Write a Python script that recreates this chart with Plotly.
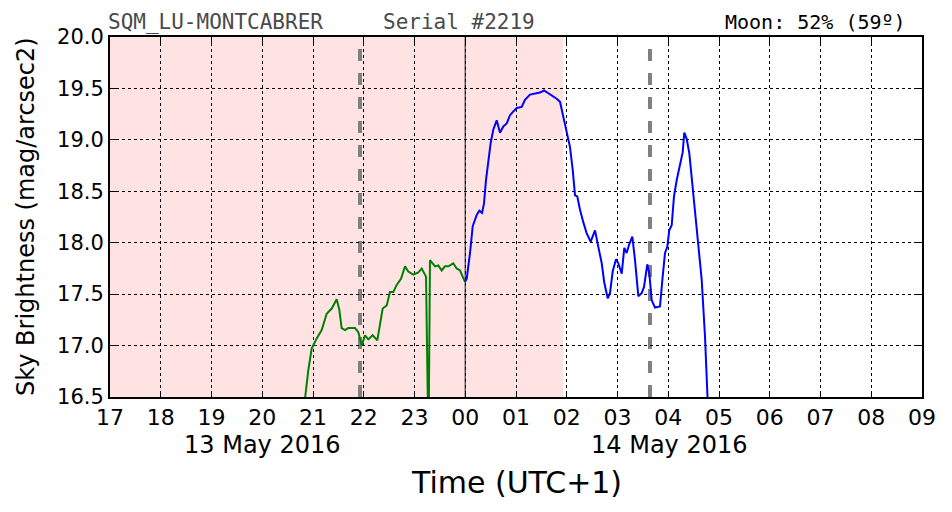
import plotly.graph_objects as go

# Time in decimal hours (UTC+1); values >= 24 are after midnight of 14 May 2016
green_t = [20.80, 20.907, 20.974, 21.073, 21.171, 21.270, 21.369, 21.467, 21.518, 21.565,
           21.631, 21.696, 21.828, 21.893, 21.960, 22.025, 22.090, 22.176, 22.267, 22.373,
           22.452, 22.517, 22.582, 22.649, 22.734, 22.813, 22.878, 22.976, 23.075, 23.142,
           23.227, 23.256, 23.276, 23.305, 23.404, 23.469, 23.536, 23.601, 23.666, 23.764,
           23.831, 23.897, 23.995]
green_v = [16.30, 16.76, 16.97, 17.07, 17.15, 17.31, 17.36, 17.45, 17.35, 17.17,
           17.15, 17.17, 17.17, 17.13, 17.00, 17.10, 17.06, 17.10, 17.05, 17.36,
           17.39, 17.52, 17.52, 17.59, 17.65, 17.77, 17.72, 17.69, 17.71, 17.75,
           17.67, 16.00, 16.00, 17.83, 17.77, 17.78, 17.73, 17.77, 17.77, 17.80,
           17.75, 17.73, 17.62]

blue_t = [23.995, 24.029, 24.094, 24.147, 24.226, 24.277, 24.330, 24.369, 24.409, 24.454,
          24.501, 24.553, 24.620, 24.685, 24.750, 24.817, 24.882, 24.935, 25.014, 25.112,
          25.177, 25.276, 25.408, 25.473, 25.552, 25.617, 25.704, 25.802, 25.867, 25.932,
          25.999, 26.064, 26.117, 26.163, 26.208, 26.261, 26.326, 26.393, 26.472, 26.557,
          26.622, 26.689, 26.740, 26.807, 26.852, 26.905, 26.970, 27.016, 27.083, 27.134,
          27.181, 27.227, 27.292, 27.345, 27.410, 27.477, 27.522, 27.587, 27.627, 27.674,
          27.739, 27.837, 27.890, 27.936, 27.981, 28.020, 28.068, 28.113, 28.167, 28.232,
          28.285, 28.316, 28.363, 28.415, 28.462, 28.493, 28.546, 28.597, 28.659, 28.724,
          28.770, 28.790]
blue_v = [17.62, 17.65, 17.90, 18.16, 18.27, 18.31, 18.29, 18.38, 18.61, 18.80,
          18.97, 19.10, 19.19, 19.07, 19.13, 19.16, 19.24, 19.27, 19.31, 19.32,
          19.39, 19.44, 19.45, 19.46, 19.48, 19.46, 19.43, 19.40, 19.37, 19.23,
          19.10, 18.93, 18.71, 18.46, 18.45, 18.32, 18.20, 18.09, 18.01, 18.12,
          17.96, 17.80, 17.61, 17.46, 17.51, 17.72, 17.84, 17.80, 17.70, 17.95,
          17.90, 17.98, 18.06, 17.83, 17.48, 17.51, 17.57, 17.79, 17.70, 17.44,
          17.37, 17.38, 17.67, 17.90, 17.96, 18.12, 18.17, 18.45, 18.61, 18.77,
          18.88, 19.07, 19.01, 18.87, 18.63, 18.42, 18.22, 17.96, 17.64, 17.09,
          16.50, 16.30]

tick_vals = list(range(17, 34))
tick_text = ["17", "18", "19", "20", "21", "22", "23", "00", "01", "02",
             "03", "04", "05", "06", "07", "08", "09"]
y_ticks = [16.5, 17.0, 17.5, 18.0, 18.5, 19.0, 19.5, 20.0]

night_start, night_end = 17.0, 25.93
dashed_lines = [21.926, 27.64]
midnight = 24.0
date_labels = [(20.0, "13 May 2016"), (28.03, "14 May 2016")]

sans = "DejaVu Sans"
mono = "DejaVu Sans Mono"

fig = go.Figure()
fig.add_trace(go.Scatter(x=green_t, y=green_v, mode="lines",
                         line=dict(color="#008000", width=2), showlegend=False))
fig.add_trace(go.Scatter(x=blue_t, y=blue_v, mode="lines",
                         line=dict(color="#0000ff", width=2), showlegend=False))

fig.add_vrect(x0=night_start, x1=night_end, fillcolor="#ffe3e3", line_width=0, layer="below")
for xv in dashed_lines:
    fig.add_vline(x=xv, line=dict(color="#808080", width=4, dash="dash"), layer="below")
fig.add_vline(x=midnight, line=dict(color="#606060", width=1.5), layer="below")

for xv, txt in date_labels:
    fig.add_annotation(x=xv, xref="x", y=0, yref="paper", yanchor="middle", yshift=-48,
                       text=txt, showarrow=False, font=dict(family=sans, size=24, color="black"))
fig.add_annotation(x=0.5, xref="paper", y=0, yref="paper", yanchor="middle", yshift=-85,
                   text="Time (UTC+1)", showarrow=False,
                   font=dict(family=sans, size=30, color="black"))
fig.add_annotation(x=0, xref="paper", y=0.5, yref="paper", xanchor="center", xshift=-84,
                   text="Sky Brightness (mag/arcsec2)", textangle=-90, showarrow=False,
                   font=dict(family=sans, size=24, color="black"))

fig.add_annotation(x=0, xref="paper", xanchor="left", y=1, yref="paper", yanchor="bottom",
                   yshift=1, xshift=-4, text="SQM_LU-MONTCABRER", showarrow=False,
                   font=dict(family=mono, size=21, color="#4a4a4a"))
fig.add_annotation(x=(385 - 110) / 812, xref="paper", xanchor="left", y=1,
                   yref="paper", yanchor="bottom", yshift=1, xshift=-4, text="Serial #2219",
                   showarrow=False, font=dict(family=mono, size=21, color="#4a4a4a"))
fig.add_annotation(x=1, xref="paper", xanchor="right", y=1, yref="paper", yanchor="bottom",
                   yshift=1, xshift=-14, text="Moon: 52% (59º)", showarrow=False,
                   font=dict(family=mono, size=20, color="black"))

fig.update_layout(
    width=952, height=512,
    margin=dict(l=102, r=38, t=29, b=123),
    paper_bgcolor="white", plot_bgcolor="white",
    xaxis=dict(range=[17, 33], tickvals=tick_vals, ticktext=tick_text,
               showgrid=True, gridcolor="black", griddash="dot", gridwidth=1,
               ticks="inside", ticklen=6, tickcolor="black", mirror="ticks",
               showline=True, linecolor="black", linewidth=2, zeroline=False,
               tickfont=dict(family=sans, size=22, color="black")),
    yaxis=dict(range=[16.5, 20.0], tickvals=y_ticks, ticktext=[f"{v:.1f}" for v in y_ticks],
               showgrid=True, gridcolor="black", griddash="dot", gridwidth=1,
               ticks="inside", ticklen=6, tickcolor="black", mirror="ticks",
               showline=True, linecolor="black", linewidth=2, zeroline=False,
               tickfont=dict(family=sans, size=21, color="black")),
)

fig.write_html("out.html")
